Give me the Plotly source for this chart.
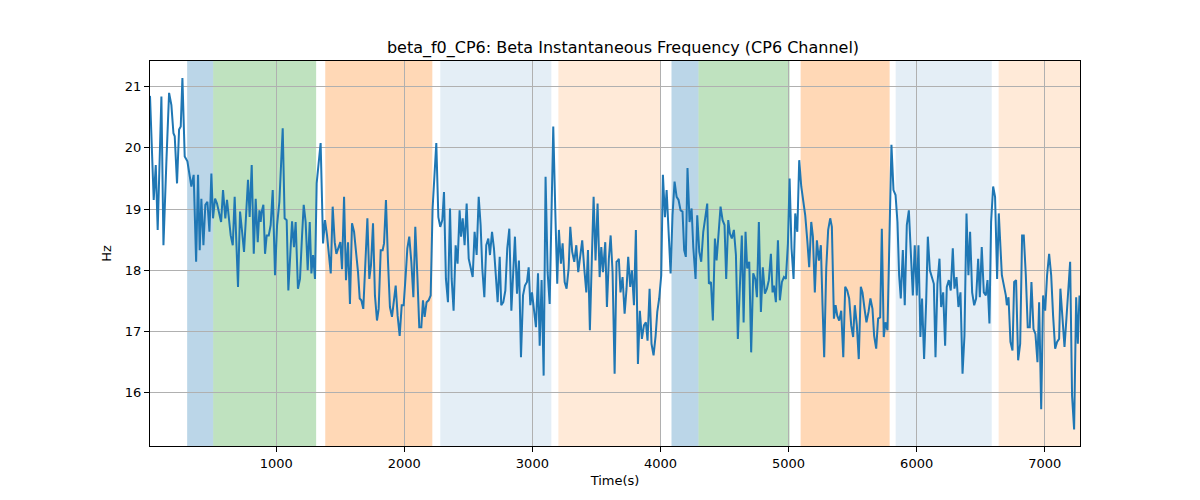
import plotly.graph_objects as go

time_s = [15, 44, 60, 75, 104, 120, 143, 164, 182, 198, 208, 226, 242, 255, 268, 286, 307, 325, 338, 356,
          375, 390, 403, 416, 432, 447, 463, 479, 494, 507, 523, 538, 554, 570, 585, 603, 616,
          630, 645, 661, 676, 702, 718, 734, 749, 765, 780, 793, 809, 825, 840, 856, 869, 879, 887, 900,
          913, 926, 942, 957, 973, 991, 1007, 1025, 1038, 1051, 1066, 1082, 1095, 1111, 1124, 1139, 1152,
          1170, 1186, 1202, 1215, 1230, 1246, 1262, 1275, 1288, 1303, 1316, 1332, 1347, 1366, 1381, 1397,
          1412, 1426, 1441, 1457, 1470, 1485, 1501, 1514, 1530, 1545, 1561, 1576, 1592, 1608, 1623, 1639,
          1652, 1665, 1680, 1696, 1712, 1727, 1740, 1756, 1771, 1787, 1800, 1816, 1831, 1842, 1857, 1873,
          1888, 1904, 1920, 1933, 1948, 1964, 1980, 1995, 2011, 2024, 2039, 2055, 2071, 2086, 2102, 2117,
          2133, 2146, 2159, 2174, 2190, 2206, 2221, 2237, 2250, 2266, 2281, 2297, 2310, 2325, 2341, 2357,
          2370, 2385, 2401, 2416, 2432, 2443, 2456, 2471, 2487, 2503, 2518, 2534, 2549, 2565, 2581, 2596,
          2609, 2625, 2640, 2656, 2669, 2685, 2700, 2716, 2729, 2745, 2757, 2773, 2789, 2804, 2820, 2836,
          2851, 2864, 2880, 2895, 2911, 2927, 2942, 2958, 2971, 2984, 2997, 3012, 3028, 3044, 3057, 3072,
          3088, 3103, 3119, 3135, 3148, 3163, 3179, 3194, 3207, 3223, 3236, 3252, 3267, 3283, 3296, 3311,
          3327, 3343, 3358, 3374, 3389, 3405, 3421, 3434, 3449, 3465, 3478, 3493, 3509, 3525, 3538, 3551,
          3569, 3582, 3597, 3611, 3626, 3642, 3657, 3668, 3675, 3688, 3704, 3720, 3735, 3748, 3764, 3777,
          3793, 3808, 3824, 3839, 3855, 3871, 3886, 3899, 3915, 3930, 3946, 3962, 3975, 3990, 4006, 4019,
          4035, 4048, 4063, 4079, 4094, 4110, 4126, 4141, 4157, 4172, 4185, 4198, 4211, 4227, 4243, 4256,
          4274, 4287, 4303, 4318, 4334, 4349, 4365, 4378, 4394, 4409, 4425, 4438, 4453, 4469, 4485, 4500,
          4513, 4529, 4542, 4557, 4573, 4589, 4604, 4620, 4635, 4649, 4664, 4677, 4693, 4708, 4724, 4740,
          4753, 4768, 4784, 4799, 4815, 4831, 4846, 4862, 4875, 4886, 4901, 4917, 4932, 4948, 4964, 4979,
          4995, 5008, 5023, 5039, 5052, 5068, 5083, 5099, 5114, 5130, 5146, 5161, 5177, 5190, 5205, 5221,
          5237, 5252, 5265, 5278, 5294, 5309, 5325, 5338, 5354, 5367, 5380, 5395, 5411, 5427, 5442, 5458,
          5473, 5489, 5504, 5517, 5533, 5548, 5564, 5577, 5593, 5608, 5624, 5639, 5655, 5668, 5684, 5699,
          5715, 5728, 5743, 5756, 5772, 5788, 5803, 5819, 5835, 5850, 5863, 5876, 5892, 5907, 5923, 5939,
          5954, 5970, 5985, 6001, 6014, 6029, 6042, 6058, 6074, 6087, 6103, 6118, 6134, 6147, 6162, 6178,
          6191, 6207, 6222, 6235, 6251, 6266, 6282, 6295, 6311, 6326, 6342, 6358, 6373, 6389, 6404, 6417,
          6433, 6449, 6464, 6480, 6493, 6508, 6524, 6540, 6553, 6568, 6581, 6597, 6612, 6628, 6641, 6665,
          6680, 6696, 6704, 6717, 6732, 6748, 6761, 6776, 6792, 6808, 6823, 6836, 6852, 6867, 6883, 6896,
          6912, 6927, 6943, 6956, 6972, 6987, 7003, 7018, 7034, 7050, 7065, 7081, 7096, 7112, 7122, 7138,
          7154, 7169, 7185, 7198, 7213, 7229, 7245, 7258, 7271]

freq_hz = [20.85, 19.15, 19.72, 18.66, 20.84, 18.41, 19.78, 20.9, 20.7, 20.24, 20.19, 19.42, 20.3, 20.35, 21.14, 19.86, 19.78, 19.53, 19.37, 19.56,
           18.14, 19.56, 18.33, 19.17, 18.41, 19.07, 19.12, 18.63, 19.58, 18.85, 19.17, 19.09, 18.93, 18.79, 19.31, 18.85, 19.15,
           18.85, 18.57, 18.41, 19.2, 17.73, 18.96, 18.63, 18.3, 18.9, 19.48, 18.87, 19.72, 18.27, 19.17, 18.46, 18.98, 18.79, 18.96, 19.07,
           18.27, 18.57, 18.57, 18.74, 19.31, 17.92, 18.74, 19.12, 19.67, 20.32, 18.85, 18.82, 17.67, 18.19, 18.8, 18.38, 18.79,
           17.7, 17.86, 18.57, 19.07, 18.79, 18.0, 18.79, 17.95, 18.25, 17.86, 19.42, 19.83, 20.08, 18.44, 18.82, 18.57,
           18.19, 17.95, 19.04, 18.46, 18.27, 18.38, 18.46, 18.02, 19.2, 17.84, 18.46, 17.45, 18.77, 18.63, 18.36, 17.97,
           17.54, 17.51, 17.37, 18.03, 18.85, 17.86, 18.08, 18.77, 17.59, 17.18, 17.37, 18.33, 18.33, 18.44, 19.15, 18.14,
           17.4, 17.24, 17.48, 17.75, 17.26, 16.93, 17.43, 17.43, 17.92, 18.36, 18.55, 18.14, 17.56, 18.71, 17.92, 17.07,
           17.07, 17.51, 17.24, 17.48, 17.51, 17.59, 19.01, 19.58, 20.08, 18.87, 18.71, 18.82, 19.28, 17.86, 17.48, 19.01,
           17.86, 17.34, 18.41, 18.11, 18.98, 18.55, 18.85, 18.41, 19.09, 18.19, 18.03, 17.89, 18.63, 18.25, 19.2, 18.74,
           18.03, 17.56, 18.41, 18.52, 18.25, 18.63, 18.36, 17.81, 17.48, 18.22, 17.43, 17.48, 17.67, 18.36, 18.68, 17.34,
           18.14, 18.55, 17.62, 18.16, 16.58, 17.59, 17.75, 17.81, 18.05, 17.43, 17.64, 17.32, 17.07, 17.95, 16.77, 17.84,
           16.28, 19.53, 17.97, 17.45, 18.85, 20.35, 18.96, 17.78, 18.66, 18.11, 18.44, 17.81, 17.7, 18.03, 18.71, 18.3,
           18.14, 18.41, 17.97, 18.25, 18.49, 18.03, 17.64, 18.33, 17.02, 18.25, 19.2, 18.16, 19.09, 17.89, 18.38, 17.97,
           18.46, 17.4, 18.19, 18.57, 17.97, 16.31, 18.14, 18.16, 18.19, 17.64, 17.89, 17.29, 17.7, 18.22, 17.73, 18.0,
           17.43, 18.66, 16.47, 17.34, 16.88, 17.1, 17.15, 16.85, 17.7, 16.8, 16.61, 16.93, 17.32, 17.54, 17.92, 19.56,
           18.87, 19.31, 18.63, 17.95, 18.9, 19.45, 19.2, 19.15, 18.98, 18.96, 18.33, 18.22, 19.67, 18.79, 19.01, 18.38,
           17.86, 18.9, 18.3, 18.14, 18.63, 18.87, 19.09, 17.78, 17.81, 17.18, 18.52, 18.16, 18.68, 19.04, 18.82, 18.74,
           17.86, 18.82, 18.6, 18.52, 18.66, 18.25, 16.88, 17.7, 18.57, 17.15, 18.63, 18.03, 18.14, 16.66, 17.95, 17.86,
           17.56, 18.79, 17.32, 18.05, 17.62, 17.7, 17.84, 18.27, 17.64, 17.75, 17.48, 18.49, 17.51, 17.81, 17.89, 17.86,
           18.44, 19.5, 18.36, 17.86, 18.93, 18.63, 19.8, 19.37, 19.17, 18.9, 18.49, 18.05, 18.79, 18.55, 17.64, 18.49,
           18.16, 18.41, 17.43, 16.58, 18.03, 18.66, 18.85, 18.71, 17.21, 17.43, 17.26, 17.18, 17.34, 16.58, 17.73, 17.67,
           17.54, 17.1, 16.91, 17.43, 17.1, 16.55, 17.73, 17.64, 17.37, 17.15, 17.32, 17.54, 17.37, 16.93, 16.72, 17.21,
           17.23, 18.68, 16.91, 17.15, 17.02, 18.55, 20.05, 19.31, 19.23, 18.79, 17.92, 17.54, 18.33, 17.43, 18.74, 18.98,
           18.25, 17.59, 18.41, 17.59, 18.41, 16.91, 17.54, 16.55, 17.48, 18.55, 18.0, 17.89, 17.78, 16.58, 17.78, 18.19,
           17.4, 17.64, 16.77, 17.73, 17.84, 17.67, 18.36, 17.7, 17.89, 17.4, 17.64, 16.31, 16.93, 18.93, 17.92, 18.63,
           17.64, 17.43, 17.54, 18.19, 17.56, 18.38, 17.64, 17.59, 17.84, 17.13, 18.79, 19.37, 19.2, 17.86, 18.93, 17.92,
           17.75, 17.59, 17.43, 17.56, 16.83, 16.69, 17.81, 17.84, 16.53, 16.8, 18.57, 18.57, 17.92, 17.07, 17.07, 17.81,
           17.04, 16.96, 16.5, 17.48, 15.73, 17.59, 17.34, 17.92, 18.27, 17.92, 17.26, 16.72, 16.83, 16.88, 17.7, 17.21,
           16.75, 17.21, 17.75, 18.14, 15.95, 15.4, 17.56, 16.8, 17.59]

span_starts = [305, 508, 1383, 2281, 3203, 4086, 4297, 5094, 5836, 6640]
span_ends = [508, 1312, 2219, 3148, 4000, 4297, 5008, 5789, 6586, 7300]
span_colors = ["rgba(31,119,180,0.3)", "rgba(44,160,44,0.3)", "rgba(255,127,14,0.3)",
               "rgba(31,119,180,0.12)", "rgba(255,127,14,0.16)",
               "rgba(31,119,180,0.3)", "rgba(44,160,44,0.3)", "rgba(255,127,14,0.3)",
               "rgba(31,119,180,0.12)", "rgba(255,127,14,0.16)"]

x_ticks = [1000, 2000, 3000, 4000, 5000, 6000, 7000]
y_ticks = [16, 17, 18, 19, 20, 21]

fig = go.Figure()
for s, e, c in zip(span_starts, span_ends, span_colors):
    fig.add_vrect(x0=s, x1=e, fillcolor=c, line_width=0, layer="below")

fig.add_trace(go.Scatter(x=time_s, y=freq_hz, mode="lines",
                         line=dict(color="#1f77b4", width=2), showlegend=False))

axis_common = dict(showline=True, linecolor="black", linewidth=1, mirror=True,
                   ticks="outside", ticklen=5, tickcolor="black",
                   showgrid=True, gridcolor="#b0b0b0", gridwidth=1, zeroline=False,
                   tickfont=dict(size=13, color="black"))

fig.update_layout(
    width=1200, height=500,
    margin=dict(l=142, r=128, t=53, b=62),
    paper_bgcolor="white", plot_bgcolor="white",
    font=dict(family="DejaVu Sans", color="black"),
    title=dict(text="beta_f0_CP6: Beta Instantaneous Frequency (CP6 Channel)",
               x=0.5125, xanchor="center", y=0.922, yanchor="middle",
               font=dict(size=16, color="black")),
    xaxis=dict(range=[15, 7275], tickvals=x_ticks,
               title=dict(text="Time(s)", font=dict(size=13), standoff=6), **axis_common),
    yaxis=dict(range=[15.13, 21.42], tickvals=y_ticks,
               title=dict(text="Hz", font=dict(size=13), standoff=10), **axis_common),
)

fig.write_html("out.html")
